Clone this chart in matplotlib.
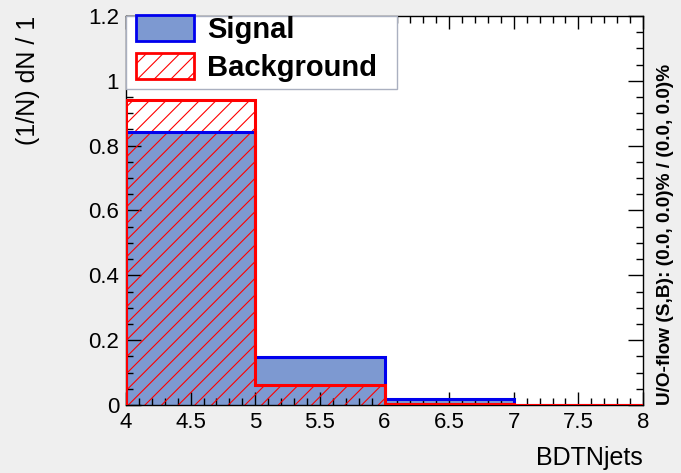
import matplotlib
matplotlib.use("Agg")
import matplotlib.pyplot as plt
from matplotlib.patches import Patch, Rectangle
from matplotlib.ticker import MultipleLocator
import numpy as np

plt.rcParams['font.family'] = ['Liberation Sans', 'DejaVu Sans']
plt.rcParams['hatch.linewidth'] = 0.8

bin_edges = [4, 5, 6, 7, 8]
signal = [0.841, 0.148, 0.019, 0.0]
background = [0.940, 0.062, 0.004, 0.0]
x_label = "BDTNjets"
y_label = "(1/N) dN / 1"
flow_text = "U/O-flow (S,B): (0.0, 0.0)% / (0.0, 0.0)%"
legend_labels = ["Signal", "Background"]

sig_fill = "#7d99d1"
sig_line = "#0000ee"
bkg_line = "#ff0000"

fig = plt.figure(figsize=(6.81, 4.73), dpi=100, facecolor="#efefef")
ax_l, ax_r, ax_t, ax_b = 126, 643, 16, 405
aw, ah = ax_r - ax_l, ax_b - ax_t
ax = fig.add_axes([ax_l/681, 1 - ax_b/473, aw/681, ah/473])
ax.set_facecolor("white")

edges = np.array(bin_edges, dtype=float)
left = edges[:-1]
widths = np.diff(edges)

ax.bar(left, signal, width=widths, align="edge", color=sig_fill, linewidth=0, zorder=1)
ax.bar(left, background, width=widths, align="edge", facecolor="none",
       edgecolor=bkg_line, hatch="//", linewidth=0, zorder=2)
ax.stairs(signal, edges, baseline=0, color=sig_line, linewidth=2.2, zorder=3)
ax.stairs(background, edges, baseline=0, color=bkg_line, linewidth=2.2, zorder=4)

ax.set_xlim(4, 8)
ax.set_ylim(0, 1.2)
ax.xaxis.set_major_locator(MultipleLocator(0.5))
ax.xaxis.set_minor_locator(MultipleLocator(0.1))
ax.yaxis.set_major_locator(MultipleLocator(0.2))
ax.yaxis.set_minor_locator(MultipleLocator(0.05))
ax.xaxis.set_major_formatter(plt.FuncFormatter(lambda v, p: f"{v:g}"))
ax.yaxis.set_major_formatter(plt.FuncFormatter(lambda v, p: f"{v:g}"))
ax.tick_params(which="both", direction="in", top=True, right=True, width=1)
ax.tick_params(which="major", labelsize=16)
ax.tick_params(axis="x", which="major", length=9.5, pad=5)
ax.tick_params(axis="y", which="major", length=11, pad=5)
ax.tick_params(which="minor", length=5)
for s in ax.spines.values():
    s.set_linewidth(1)

fig.text(ax_r/681, 1 - 458/473, x_label, ha="right", va="center", fontsize=18)
fig.text(28/681, 1 - ax_t/473, y_label, ha="center", va="top", rotation=90, fontsize=18)
fig.text(666/681, 1 - ax_b/473, flow_text, ha="center", va="bottom", rotation=90,
         fontsize=13.7, fontweight="bold")

# legend box (frame drawn separately so the entries can be inset like ROOT's TLegend)
box_w, box_h = 397 - ax_l, 89 - ax_t
ax.add_patch(Rectangle((0, 1 - box_h/ah), box_w/aw, box_h/ah, transform=ax.transAxes,
                       facecolor="white", edgecolor="#aab0c0", linewidth=1, zorder=9,
                       clip_on=False))
handles = [Patch(facecolor=sig_fill, edgecolor=sig_line, linewidth=2),
           Patch(facecolor="white", edgecolor=bkg_line, hatch="//", linewidth=2)]
leg = ax.legend(handles, legend_labels, loc="upper left",
                bbox_to_anchor=(10/aw, 1 + 1/ah), frameon=False, borderaxespad=0,
                prop={"weight": "bold", "size": 21}, handlelength=2.0, handleheight=0.97,
                handletextpad=0.45, borderpad=0.0, labelspacing=0.32)
leg.set_zorder(10)

fig.savefig("out.png", dpi=100, facecolor=fig.get_facecolor())
